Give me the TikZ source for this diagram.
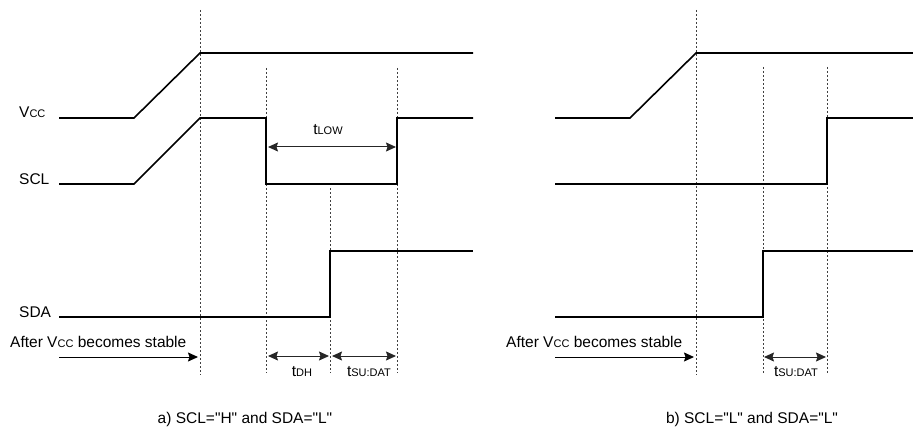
\documentclass[tikz,border=0pt]{standalone}
\usepackage{fontspec}
\setmainfont{Liberation Sans}
\usetikzlibrary{arrows.meta}
\newcommand\lowtxt[1]{{\fontsize{11}{12}\selectfont #1}}
\newcommand\qt[1]{\textquotedbl#1\textquotedbl}

\begin{document}
\begin{tikzpicture}[x=1pt,y=-1pt,>={Stealth[length=10pt,width=9pt,inset=1.5pt]},
  signal/.style={line width=1.6pt,line join=miter},
  guide/.style={line width=0.9pt,black!75,dash pattern=on 2pt off 2pt},
  span/.style={<->,line width=1pt,black!85},
  lbl/.style={inner sep=0pt,font=\fontsize{15.5}{18}\selectfont}]
  \useasboundingbox (0,0) rectangle (913,441);

  % parts that both cases share
  \foreach \dx/\xe/\p in {0/473/a,496/417/b}{
    \begin{scope}[xshift=\dx pt]
      \draw[guide] (200,10) coordinate (\p top) -- (200,375) coordinate (\p bot);
      \draw[signal] (59,118) -- (134,118) -- (200,53) -- (\xe,53);
      \node[lbl,anchor=base west] (\p after) at (10,347) {After V\lowtxt{CC} becomes stable};
      \coordinate (\p from) at (59,357);
      \coordinate (\p to) at (198,357);
      \draw[->,line width=1pt] (\p from) -- (\p to);
    \end{scope}}

  % a) SCL="H" and SDA="L"
  \node[lbl,anchor=base west] (vcc) at (19,118) {V\lowtxt{CC}};
  \node[lbl,anchor=base west] (scl) at (19,184) {SCL};
  \node[lbl,anchor=base west] (sda) at (19,317) {SDA};

  \draw[guide] (266,68) -- (266,373);
  \draw[guide] (330,188) -- (330,373);
  \draw[guide] (397,68) -- (397,373);

  \draw[signal] (59,184) -- (134,184) -- (200,118) -- (266,118) -- (266,184)
    -- (397,184) -- (397,118) -- (473,118);
  \draw[signal] (59,317) -- (330,317) -- (330,251) -- (473,251);

  \coordinate (lowL) at (268,147);
  \coordinate (lowR) at (396,147);
  \coordinate (dhL) at (268,356);
  \coordinate (dhR) at (329,356);
  \coordinate (suL) at (332,356);
  \coordinate (suR) at (396,356);
  \draw[span] (lowL) -- (lowR);
  \draw[span] (dhL) -- (dhR);
  \draw[span] (suL) -- (suR);
  \node[lbl,anchor=base] (tlow) at (328,135) {t\lowtxt{LOW}};
  \node[lbl,anchor=base] (tdh) at (302,376) {t\lowtxt{DH}};
  \node[lbl,anchor=base] (tsua) at (369,376) {t\lowtxt{SU:DAT}};

  \node[lbl,anchor=base] (capa) at (245,423) {a) SCL=\qt{H} and SDA=\qt{L}};

  % b) SCL="L" and SDA="L"
  \draw[guide] (763,67) -- (763,373);
  \draw[guide] (827,67) -- (827,373);

  \draw[signal] (555,184) -- (827,184) -- (827,118) -- (913,118);
  \draw[signal] (555,317) -- (763,317) -- (763,251) -- (913,251);

  \coordinate (subL) at (764,357);
  \coordinate (subR) at (826,357);
  \draw[span] (subL) -- (subR);
  \node[lbl,anchor=base] (tsub) at (796,376) {t\lowtxt{SU:DAT}};

  \node[lbl,anchor=base] (capb) at (752,423) {b) SCL=\qt{L} and SDA=\qt{L}};
\end{tikzpicture}
\end{document}
